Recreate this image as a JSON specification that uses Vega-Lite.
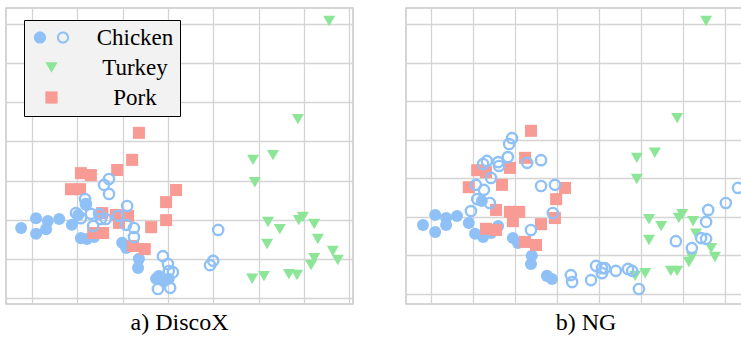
{
  "$schema": "https://vega.github.io/schema/vega-lite/v6.json",
  "padding": {"left": 5, "top": 7, "right": 0, "bottom": 0},
  "background": "white",
  "config": {
    "view": {"stroke": "#c8c8c8", "strokeWidth": 1.5},
    "axis": {"grid": true, "gridColor": "#d4d4d4", "gridWidth": 1.3, "labels": false, "ticks": false, "domain": false, "title": null},
    "legend": {"labelFont": "Liberation Serif", "labelFontSize": 23, "labelColor": "black"},
    "title": {"font": "Liberation Serif", "fontSize": 24, "fontWeight": "normal", "color": "black", "orient": "bottom", "offset": 7}
  },
  "resolve": {"scale": {"color": "independent", "shape": "independent"}, "legend": {"color": "independent", "shape": "independent"}},
  "datasets": {
    "disco": [
      {"x": -0.24, "y": 1.79, "species": "Chicken", "hollow": false},
      {"x": 0.09, "y": 2.04, "species": "Chicken", "hollow": false},
      {"x": 0.09, "y": 1.64, "species": "Chicken", "hollow": false},
      {"x": 0.35, "y": 1.97, "species": "Chicken", "hollow": false},
      {"x": 0.31, "y": 1.76, "species": "Chicken", "hollow": false},
      {"x": 0.60, "y": 2.02, "species": "Chicken", "hollow": false},
      {"x": 0.88, "y": 1.87, "species": "Chicken", "hollow": false},
      {"x": 1.02, "y": 2.12, "species": "Chicken", "hollow": false},
      {"x": 1.19, "y": 2.38, "species": "Chicken", "hollow": false},
      {"x": 1.08, "y": 1.53, "species": "Chicken", "hollow": false},
      {"x": 1.21, "y": 1.51, "species": "Chicken", "hollow": false},
      {"x": 1.37, "y": 1.56, "species": "Chicken", "hollow": false},
      {"x": 1.99, "y": 1.41, "species": "Chicken", "hollow": false},
      {"x": 2.08, "y": 1.28, "species": "Chicken", "hollow": false},
      {"x": 2.36, "y": 1.00, "species": "Chicken", "hollow": false},
      {"x": 2.34, "y": 0.77, "species": "Chicken", "hollow": false},
      {"x": 2.74, "y": 0.49, "species": "Chicken", "hollow": false},
      {"x": 2.83, "y": 0.49, "species": "Chicken", "hollow": false},
      {"x": 2.91, "y": 0.43, "species": "Chicken", "hollow": false},
      {"x": 3.02, "y": 0.49, "species": "Chicken", "hollow": false},
      {"x": 2.80, "y": 0.56, "species": "Chicken", "hollow": false},
      {"x": 2.36, "y": 4.22, "species": "Pork", "hollow": false},
      {"x": 2.21, "y": 3.53, "species": "Pork", "hollow": false},
      {"x": 1.88, "y": 3.27, "species": "Pork", "hollow": false},
      {"x": 1.08, "y": 3.19, "species": "Pork", "hollow": false},
      {"x": 1.30, "y": 3.14, "species": "Pork", "hollow": false},
      {"x": 0.86, "y": 2.78, "species": "Pork", "hollow": false},
      {"x": 1.06, "y": 2.78, "species": "Pork", "hollow": false},
      {"x": 3.18, "y": 2.76, "species": "Pork", "hollow": false},
      {"x": 2.96, "y": 2.45, "species": "Pork", "hollow": false},
      {"x": 2.96, "y": 1.99, "species": "Pork", "hollow": false},
      {"x": 2.63, "y": 1.81, "species": "Pork", "hollow": false},
      {"x": 1.55, "y": 2.17, "species": "Pork", "hollow": false},
      {"x": 1.85, "y": 2.12, "species": "Pork", "hollow": false},
      {"x": 2.12, "y": 2.10, "species": "Pork", "hollow": false},
      {"x": 1.92, "y": 1.92, "species": "Pork", "hollow": false},
      {"x": 1.35, "y": 1.66, "species": "Pork", "hollow": false},
      {"x": 1.57, "y": 1.66, "species": "Pork", "hollow": false},
      {"x": 2.23, "y": 1.33, "species": "Pork", "hollow": false},
      {"x": 2.49, "y": 1.25, "species": "Pork", "hollow": false},
      {"x": 6.56, "y": 7.08, "species": "Turkey", "hollow": false},
      {"x": 5.87, "y": 4.57, "species": "Turkey", "hollow": false},
      {"x": 4.88, "y": 3.53, "species": "Turkey", "hollow": false},
      {"x": 5.32, "y": 3.65, "species": "Turkey", "hollow": false},
      {"x": 4.92, "y": 2.96, "species": "Turkey", "hollow": false},
      {"x": 5.21, "y": 1.94, "species": "Turkey", "hollow": false},
      {"x": 5.47, "y": 1.76, "species": "Turkey", "hollow": false},
      {"x": 5.89, "y": 1.99, "species": "Turkey", "hollow": false},
      {"x": 5.98, "y": 2.07, "species": "Turkey", "hollow": false},
      {"x": 6.23, "y": 1.89, "species": "Turkey", "hollow": false},
      {"x": 6.31, "y": 1.51, "species": "Turkey", "hollow": false},
      {"x": 5.19, "y": 1.38, "species": "Turkey", "hollow": false},
      {"x": 6.64, "y": 1.20, "species": "Turkey", "hollow": false},
      {"x": 6.75, "y": 0.97, "species": "Turkey", "hollow": false},
      {"x": 6.23, "y": 1.02, "species": "Turkey", "hollow": false},
      {"x": 6.16, "y": 0.84, "species": "Turkey", "hollow": false},
      {"x": 4.86, "y": 0.49, "species": "Turkey", "hollow": false},
      {"x": 5.12, "y": 0.56, "species": "Turkey", "hollow": false},
      {"x": 5.67, "y": 0.61, "species": "Turkey", "hollow": false},
      {"x": 5.85, "y": 0.59, "species": "Turkey", "hollow": false},
      {"x": 1.70, "y": 3.04, "species": "Chicken", "hollow": true},
      {"x": 1.59, "y": 2.89, "species": "Chicken", "hollow": true},
      {"x": 1.70, "y": 2.66, "species": "Chicken", "hollow": true},
      {"x": 1.17, "y": 2.53, "species": "Chicken", "hollow": true},
      {"x": 1.19, "y": 2.40, "species": "Chicken", "hollow": true},
      {"x": 0.97, "y": 2.17, "species": "Chicken", "hollow": true},
      {"x": 1.08, "y": 2.04, "species": "Chicken", "hollow": true},
      {"x": 1.30, "y": 2.15, "species": "Chicken", "hollow": true},
      {"x": 1.48, "y": 2.15, "species": "Chicken", "hollow": true},
      {"x": 1.52, "y": 2.02, "species": "Chicken", "hollow": true},
      {"x": 1.63, "y": 2.02, "species": "Chicken", "hollow": true},
      {"x": 1.35, "y": 1.84, "species": "Chicken", "hollow": true},
      {"x": 1.90, "y": 2.10, "species": "Chicken", "hollow": true},
      {"x": 2.10, "y": 2.35, "species": "Chicken", "hollow": true},
      {"x": 2.08, "y": 1.87, "species": "Chicken", "hollow": true},
      {"x": 2.25, "y": 1.79, "species": "Chicken", "hollow": true},
      {"x": 2.25, "y": 1.56, "species": "Chicken", "hollow": true},
      {"x": 2.89, "y": 1.07, "species": "Chicken", "hollow": true},
      {"x": 3.00, "y": 0.87, "species": "Chicken", "hollow": true},
      {"x": 3.02, "y": 0.69, "species": "Chicken", "hollow": true},
      {"x": 3.11, "y": 0.66, "species": "Chicken", "hollow": true},
      {"x": 2.78, "y": 0.23, "species": "Chicken", "hollow": true},
      {"x": 3.05, "y": 0.26, "species": "Chicken", "hollow": true},
      {"x": 4.11, "y": 1.74, "species": "Chicken", "hollow": true},
      {"x": 4.00, "y": 0.95, "species": "Chicken", "hollow": true},
      {"x": 3.93, "y": 0.84, "species": "Chicken", "hollow": true}
    ],
    "ng": [
      {"x": -0.19, "y": 1.79, "species": "Chicken", "hollow": false},
      {"x": 0.10, "y": 2.05, "species": "Chicken", "hollow": false},
      {"x": 0.10, "y": 1.61, "species": "Chicken", "hollow": false},
      {"x": 0.36, "y": 1.97, "species": "Chicken", "hollow": false},
      {"x": 0.36, "y": 1.79, "species": "Chicken", "hollow": false},
      {"x": 0.62, "y": 2.02, "species": "Chicken", "hollow": false},
      {"x": 0.90, "y": 1.84, "species": "Chicken", "hollow": false},
      {"x": 1.05, "y": 1.56, "species": "Chicken", "hollow": false},
      {"x": 1.24, "y": 1.48, "species": "Chicken", "hollow": false},
      {"x": 1.43, "y": 1.58, "species": "Chicken", "hollow": false},
      {"x": 1.60, "y": 1.76, "species": "Chicken", "hollow": false},
      {"x": 1.21, "y": 2.41, "species": "Chicken", "hollow": false},
      {"x": 1.95, "y": 1.45, "species": "Chicken", "hollow": false},
      {"x": 2.07, "y": 1.32, "species": "Chicken", "hollow": false},
      {"x": 2.40, "y": 0.99, "species": "Chicken", "hollow": false},
      {"x": 2.38, "y": 0.78, "species": "Chicken", "hollow": false},
      {"x": 2.76, "y": 0.47, "species": "Chicken", "hollow": false},
      {"x": 2.88, "y": 0.39, "species": "Chicken", "hollow": false},
      {"x": 2.38, "y": 4.23, "species": "Pork", "hollow": false},
      {"x": 2.24, "y": 3.53, "species": "Pork", "hollow": false},
      {"x": 1.10, "y": 3.21, "species": "Pork", "hollow": false},
      {"x": 1.31, "y": 3.16, "species": "Pork", "hollow": false},
      {"x": 1.88, "y": 3.27, "species": "Pork", "hollow": false},
      {"x": 0.90, "y": 2.77, "species": "Pork", "hollow": false},
      {"x": 1.69, "y": 2.83, "species": "Pork", "hollow": false},
      {"x": 3.19, "y": 2.75, "species": "Pork", "hollow": false},
      {"x": 2.98, "y": 2.46, "species": "Pork", "hollow": false},
      {"x": 2.95, "y": 1.97, "species": "Pork", "hollow": false},
      {"x": 1.55, "y": 2.18, "species": "Pork", "hollow": false},
      {"x": 1.88, "y": 2.13, "species": "Pork", "hollow": false},
      {"x": 2.10, "y": 2.13, "species": "Pork", "hollow": false},
      {"x": 1.95, "y": 1.89, "species": "Pork", "hollow": false},
      {"x": 1.31, "y": 1.69, "species": "Pork", "hollow": false},
      {"x": 1.55, "y": 1.66, "species": "Pork", "hollow": false},
      {"x": 2.62, "y": 1.81, "species": "Pork", "hollow": false},
      {"x": 2.24, "y": 1.35, "species": "Pork", "hollow": false},
      {"x": 2.50, "y": 1.27, "species": "Pork", "hollow": false},
      {"x": 6.55, "y": 7.08, "species": "Turkey", "hollow": false},
      {"x": 5.86, "y": 4.56, "species": "Turkey", "hollow": false},
      {"x": 4.90, "y": 3.53, "species": "Turkey", "hollow": false},
      {"x": 5.33, "y": 3.66, "species": "Turkey", "hollow": false},
      {"x": 4.90, "y": 2.98, "species": "Turkey", "hollow": false},
      {"x": 5.19, "y": 1.94, "species": "Turkey", "hollow": false},
      {"x": 5.48, "y": 1.76, "species": "Turkey", "hollow": false},
      {"x": 5.90, "y": 1.97, "species": "Turkey", "hollow": false},
      {"x": 5.98, "y": 2.07, "species": "Turkey", "hollow": false},
      {"x": 6.24, "y": 1.89, "species": "Turkey", "hollow": false},
      {"x": 6.31, "y": 1.56, "species": "Turkey", "hollow": false},
      {"x": 5.19, "y": 1.40, "species": "Turkey", "hollow": false},
      {"x": 6.67, "y": 1.19, "species": "Turkey", "hollow": false},
      {"x": 6.76, "y": 0.96, "species": "Turkey", "hollow": false},
      {"x": 6.21, "y": 0.96, "species": "Turkey", "hollow": false},
      {"x": 6.14, "y": 0.83, "species": "Turkey", "hollow": false},
      {"x": 5.10, "y": 0.54, "species": "Turkey", "hollow": false},
      {"x": 4.86, "y": 0.47, "species": "Turkey", "hollow": false},
      {"x": 5.71, "y": 0.60, "species": "Turkey", "hollow": false},
      {"x": 5.86, "y": 0.60, "species": "Turkey", "hollow": false},
      {"x": 1.93, "y": 4.04, "species": "Chicken", "hollow": true},
      {"x": 1.86, "y": 3.89, "species": "Chicken", "hollow": true},
      {"x": 1.24, "y": 3.37, "species": "Chicken", "hollow": true},
      {"x": 1.33, "y": 3.45, "species": "Chicken", "hollow": true},
      {"x": 1.60, "y": 3.42, "species": "Chicken", "hollow": true},
      {"x": 1.62, "y": 3.32, "species": "Chicken", "hollow": true},
      {"x": 1.83, "y": 3.55, "species": "Chicken", "hollow": true},
      {"x": 2.29, "y": 3.40, "species": "Chicken", "hollow": true},
      {"x": 2.62, "y": 3.47, "species": "Chicken", "hollow": true},
      {"x": 1.43, "y": 3.01, "species": "Chicken", "hollow": true},
      {"x": 1.07, "y": 2.83, "species": "Chicken", "hollow": true},
      {"x": 1.26, "y": 2.70, "species": "Chicken", "hollow": true},
      {"x": 1.10, "y": 2.46, "species": "Chicken", "hollow": true},
      {"x": 1.40, "y": 2.36, "species": "Chicken", "hollow": true},
      {"x": 0.95, "y": 2.15, "species": "Chicken", "hollow": true},
      {"x": 2.62, "y": 2.80, "species": "Chicken", "hollow": true},
      {"x": 2.95, "y": 2.83, "species": "Chicken", "hollow": true},
      {"x": 2.90, "y": 2.10, "species": "Chicken", "hollow": true},
      {"x": 2.38, "y": 1.66, "species": "Chicken", "hollow": true},
      {"x": 3.33, "y": 0.49, "species": "Chicken", "hollow": true},
      {"x": 3.36, "y": 0.31, "species": "Chicken", "hollow": true},
      {"x": 3.81, "y": 0.36, "species": "Chicken", "hollow": true},
      {"x": 3.93, "y": 0.73, "species": "Chicken", "hollow": true},
      {"x": 4.07, "y": 0.67, "species": "Chicken", "hollow": true},
      {"x": 4.14, "y": 0.67, "species": "Chicken", "hollow": true},
      {"x": 4.07, "y": 0.54, "species": "Chicken", "hollow": true},
      {"x": 4.40, "y": 0.60, "species": "Chicken", "hollow": true},
      {"x": 4.69, "y": 0.65, "species": "Chicken", "hollow": true},
      {"x": 4.79, "y": 0.60, "species": "Chicken", "hollow": true},
      {"x": 4.95, "y": 0.13, "species": "Chicken", "hollow": true},
      {"x": 7.31, "y": 2.75, "species": "Chicken", "hollow": true},
      {"x": 7.02, "y": 2.36, "species": "Chicken", "hollow": true},
      {"x": 6.60, "y": 2.18, "species": "Chicken", "hollow": true},
      {"x": 6.55, "y": 1.87, "species": "Chicken", "hollow": true},
      {"x": 5.83, "y": 1.37, "species": "Chicken", "hollow": true},
      {"x": 6.43, "y": 1.45, "species": "Chicken", "hollow": true},
      {"x": 6.55, "y": 1.43, "species": "Chicken", "hollow": true},
      {"x": 6.21, "y": 1.19, "species": "Chicken", "hollow": true}
    ]
  },
  "spacing": 51,
  "hconcat": [
    {
      "width": 347,
      "height": 296,
      "title": {"text": "a) DiscoX"},
      "data": {"name": "disco"},
      "encoding": {
        "x": {"field": "x", "type": "quantitative", "scale": {"domain": [-0.574, 7.086], "nice": false, "zero": false}, "axis": {"values": [0, 1, 2, 3, 4, 5, 6, 7]}},
        "y": {"field": "y", "type": "quantitative", "scale": {"domain": [-0.153, 7.41], "nice": false, "zero": false}, "axis": {"values": [0, 1, 2, 3, 4, 5, 6, 7]}}
      },
      "layer": [
        {
          "mark": {"type": "point", "filled": true, "opacity": 1, "stroke": "#8fc1f7"},
          "encoding": {
            "color": {"field": "species", "type": "nominal", "scale": {"domain": ["Chicken", "Turkey", "Pork"], "range": ["#8fc1f7", "#8de597", "#f99b95"]}, "legend": null},
            "shape": {"field": "species", "type": "nominal", "scale": {"domain": ["Chicken", "Turkey", "Pork"], "range": ["circle", "triangle-down", "square"]}, "legend": null},
            "fillOpacity": {"condition": {"test": "datum.hollow", "value": 0}, "value": 1},
            "strokeWidth": {"condition": {"test": "datum.hollow", "value": 2.4}, "value": 0},
            "size": {"condition": {"test": "datum.hollow", "value": 105}, "value": 145}
          }
        },
        {
          "transform": [{"filter": "false"}],
          "mark": {"type": "point", "filled": true, "opacity": 1},
          "encoding": {
            "color": {
              "field": "species", "type": "nominal",
              "scale": {"domain": ["Chicken", "Turkey", "Pork"], "range": ["#8fc1f7", "#8de597", "#f99b95"]},
              "legend": {
                "orient": "none", "legendX": 18, "legendY": 12, "title": null,
                "fillColor": "#f2f2f2", "strokeColor": "black", "padding": 6,
                "labelFont": "Liberation Serif", "labelFontSize": 23, "labelColor": "black",
                "labelAlign": "center", "labelOffset": 72, "symbolOffset": 10,
                "symbolSize": 150, "symbolStrokeWidth": 0, "symbolOpacity": 1, "rowPadding": 6
              }
            },
            "shape": {
              "field": "species", "type": "nominal",
              "scale": {"domain": ["Chicken", "Turkey", "Pork"], "range": ["M-2.88,0A1,1,0,1,1,-0.88,0A1,1,0,1,1,-2.88,0ZM0.88,0A1,1,0,1,1,2.88,0A1,1,0,1,1,0.88,0ZM1.21,0A0.67,0.67,0,1,0,2.55,0A0.67,0.67,0,1,0,1.21,0Z", "triangle-down", "square"]},
              "legend": {
                "orient": "none", "legendX": 18, "legendY": 12, "title": null,
                "fillColor": "#f2f2f2", "strokeColor": "black", "padding": 6,
                "labelFont": "Liberation Serif", "labelFontSize": 23, "labelColor": "black",
                "labelAlign": "center", "labelOffset": 72, "symbolOffset": 10,
                "symbolSize": 150, "symbolStrokeWidth": 0, "symbolOpacity": 1, "rowPadding": 6
              }
            }
          }
        }
      ],
      "resolve": {"scale": {"color": "independent", "shape": "independent"}}
    },
    {
      "width": 338,
      "height": 296,
      "title": {"text": "b) NG", "dx": 11},
      "data": {"name": "ng"},
      "mark": {"type": "point", "filled": true, "opacity": 1, "stroke": "#8fc1f7"},
      "encoding": {
        "x": {"field": "x", "type": "quantitative", "scale": {"domain": [-0.595, 7.452], "nice": false, "zero": false}, "axis": {"values": [0, 1, 2, 3, 4, 5, 6, 7]}},
        "y": {"field": "y", "type": "quantitative", "scale": {"domain": [-0.259, 7.415], "nice": false, "zero": false}, "axis": {"values": [0, 1, 2, 3, 4, 5, 6, 7]}},
        "color": {"field": "species", "type": "nominal", "scale": {"domain": ["Chicken", "Turkey", "Pork"], "range": ["#8fc1f7", "#8de597", "#f99b95"]}, "legend": null},
        "shape": {"field": "species", "type": "nominal", "scale": {"domain": ["Chicken", "Turkey", "Pork"], "range": ["circle", "triangle-down", "square"]}, "legend": null},
        "fillOpacity": {"condition": {"test": "datum.hollow", "value": 0}, "value": 1},
        "strokeWidth": {"condition": {"test": "datum.hollow", "value": 2.4}, "value": 0},
        "size": {"condition": {"test": "datum.hollow", "value": 105}, "value": 145}
      }
    }
  ]
}
